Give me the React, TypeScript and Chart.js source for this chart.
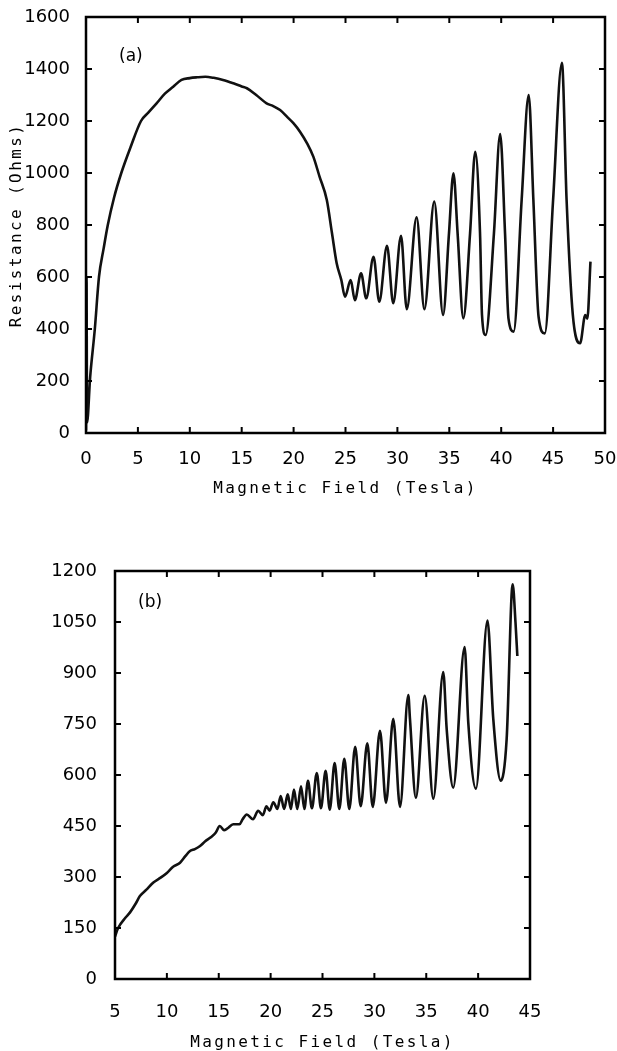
import React, { useEffect, useRef } from 'react';
import { Chart, registerables } from 'chart.js';

Chart.register(...registerables);

// ---------- Panel (a) data ----------
const fieldA = [0, 0.05, 0.1, 0.4, 0.85, 1.25, 1.7, 2.1, 2.7, 3.4, 4.3, 5.3, 6.0, 6.8, 7.6, 8.4, 9.2, 10.0, 10.7, 11.5, 12.3, 13.2, 14.2, 15.0, 15.5, 16.4, 17.4, 18.0, 18.7, 19.4, 20.0, 20.6, 21.3, 21.9, 22.5, 23.2, 23.7, 24.15, 24.6, 24.95, 25.5, 25.9, 26.5, 27.0, 27.7, 28.25, 29.0, 29.6, 30.35, 30.9, 31.85, 32.6, 33.55, 34.4, 34.97, 35.4, 35.8, 36.35, 37.0, 37.5, 37.96, 38.15, 38.5, 39.3, 39.9, 40.37, 40.7, 41.2, 41.97, 42.65, 43.1, 43.6, 44.2, 45.0, 45.85, 46.3, 46.9, 47.6, 48.1, 48.3, 48.6];
const resistanceA = [10, 600, 40, 215, 400, 600, 710, 800, 905, 1000, 1100, 1200, 1232, 1268, 1305, 1332, 1358, 1365, 1368, 1370, 1366, 1358, 1345, 1333, 1326, 1300, 1268, 1258, 1242, 1215, 1191, 1160, 1114, 1063, 986, 896, 768, 653, 588, 524, 588, 511, 614, 518, 678, 505, 720, 499, 758, 476, 830, 476, 890, 454, 768, 999, 768, 441, 768, 1082, 768, 454, 377, 768, 1150, 768, 441, 390, 896, 1300, 896, 447, 383, 896, 1424, 896, 454, 345, 454, 440, 659];
const xTicksA = [0, 5, 10, 15, 20, 25, 30, 35, 40, 45, 50];
const yTicksA = [0, 200, 400, 600, 800, 1000, 1200, 1400, 1600];

// ---------- Panel (b) data ----------
const fieldB = [5.0, 5.3, 6.0, 6.45, 7.0, 7.4, 8.0, 8.7, 9.4, 10.0, 10.6, 11.27, 11.8, 12.2, 12.7, 13.2, 13.7, 14.2, 14.7, 15.1, 15.5, 15.8, 16.4, 17.0, 17.3, 17.7, 18.3, 18.8, 19.25, 19.6, 19.9, 20.26, 20.65, 20.97, 21.3, 21.65, 21.95, 22.25, 22.57, 22.93, 23.25, 23.6, 23.98, 24.45, 24.85, 25.3, 25.7, 26.17, 26.62, 27.1, 27.58, 28.15, 28.68, 29.32, 29.84, 30.54, 31.12, 31.82, 32.47, 33.27, 33.43, 34.0, 34.85, 35.68, 36.64, 36.97, 37.6, 38.7, 39.05, 39.79, 40.9, 41.46, 42.18, 42.75, 43.33, 43.6, 43.78];
const resistanceB = [125, 150, 180, 196, 222, 244, 262, 284, 298, 312, 330, 342, 362, 376, 382, 391, 405, 416, 430, 450, 438, 442, 455, 455, 470, 484, 470, 495, 482, 508, 495, 520, 500, 538, 500, 543, 500, 557, 500, 567, 500, 583, 502, 606, 502, 612, 498, 635, 500, 648, 500, 683, 508, 693, 506, 730, 518, 765, 506, 835, 765, 533, 833, 530, 903, 735, 563, 976, 755, 560, 1054, 765, 583, 706, 1161, 1050, 950];
const xTicksB = [5, 10, 15, 20, 25, 30, 35, 40, 45];
const yTicksB = [0, 150, 300, 450, 600, 750, 900, 1050, 1200];

const xTitle = 'Magnetic Field (Tesla)';
const yTitleA = 'Resistance (Ohms)';

const TICK_FONT = { family: '"DejaVu Sans", sans-serif', size: 18 };
const TITLE_FONT = { family: '"DejaVu Sans Mono", monospace', size: 16 };

const framePlugin = {
  id: 'frame',
  beforeDraw(chart: any) {
    Object.values(chart.scales).forEach((s: any) => {
      if (!s.__spaced) {
        const orig = s.drawTitle.bind(s);
        s.drawTitle = function () {
          const c = this.ctx;
          c.save();
          (c as any).letterSpacing = '2.4px';
          orig();
          c.restore();
        };
        s.__spaced = true;
      }
    });
  },
  afterDatasetsDraw(chart: any, _args: any, opts: any) {
    const { ctx, chartArea, scales } = chart;
    const { left, top, right, bottom } = chartArea;
    const x = scales.x;
    const y = scales.y;
    ctx.save();
    ctx.strokeStyle = '#000';
    ctx.lineWidth = 2.5;
    ctx.strokeRect(left, top, right - left, bottom - top);
    ctx.lineWidth = 2;
    const L = 6;
    ctx.beginPath();
    x.ticks.forEach((t: any) => {
      const px = x.getPixelForValue(t.value);
      ctx.moveTo(px, bottom);
      ctx.lineTo(px, bottom - L);
      ctx.moveTo(px, top);
      ctx.lineTo(px, top + L);
    });
    y.ticks.forEach((t: any) => {
      const py = y.getPixelForValue(t.value);
      ctx.moveTo(left, py);
      ctx.lineTo(left + L, py);
      ctx.moveTo(right, py);
      ctx.lineTo(right - L, py);
    });
    ctx.stroke();
    if (opts && opts.label) {
      ctx.fillStyle = '#000';
      ctx.font = '17px "DejaVu Sans", sans-serif';
      ctx.textAlign = 'left';
      ctx.textBaseline = 'alphabetic';
      ctx.fillText(opts.label, left + opts.lx, top + opts.ly);
    }
    ctx.restore();
  },
};

function makeConfig(p: any) {
  const points = p.xs.map((v: number, i: number) => ({ x: v, y: p.ys[i] })).filter((d: any) => d.y !== undefined);
  return {
    type: 'line',
    data: {
      datasets: [
        {
          data: points,
          borderColor: '#111',
          borderWidth: 2.6,
          pointRadius: 0,
          fill: false,
          cubicInterpolationMode: 'monotone',
        },
      ],
    },
    options: {
      animation: false,
      responsive: false,
      devicePixelRatio: 1,
      events: [],
      layout: { padding: { left: 0, top: p.top, right: p.right, bottom: 0 } },
      plugins: {
        legend: { display: false },
        title: { display: false },
        tooltip: { enabled: false },
        frame: { label: p.label, lx: p.lx, ly: p.ly },
      },
      scales: {
        x: {
          type: 'linear',
          min: p.xmin,
          max: p.xmax,
          grid: { display: false },
          border: { display: false },
          afterBuildTicks: (s: any) => {
            s.ticks = p.xticks.map((v: number) => ({ value: v }));
          },
          afterFit: (s: any) => {
            s.height = p.xh;
            s.paddingLeft = 0;
            s.paddingRight = 0;
          },
          ticks: {
            autoSkip: false,
            maxRotation: 0,
            minRotation: 0,
            color: '#000',
            font: TICK_FONT,
            padding: p.xpad,
            callback: (v: any) => String(v),
          },
          title: {
            display: true,
            text: xTitle,
            color: '#000',
            font: TITLE_FONT,
            padding: { top: 0, bottom: p.xtpad },
          },
        },
        y: {
          type: 'linear',
          min: p.ymin,
          max: p.ymax,
          grid: { display: false },
          border: { display: false },
          afterBuildTicks: (s: any) => {
            s.ticks = p.yticks.map((v: number) => ({ value: v }));
          },
          afterFit: (s: any) => {
            s.width = p.yw;
            s.paddingTop = 0;
            s.paddingBottom = 0;
          },
          ticks: {
            autoSkip: false,
            color: '#000',
            font: TICK_FONT,
            padding: p.ypad,
            callback: (v: any) => String(v),
          },
          title: {
            display: !!p.ytitle,
            text: p.ytitle || '',
            color: '#000',
            font: TITLE_FONT,
            padding: { top: 7.4, bottom: 0 },
          },
        },
      },
    },
    plugins: [framePlugin],
  };
}

const panelA = {
  xs: fieldA, ys: resistanceA, xticks: xTicksA, yticks: yTicksA,
  xmin: 0, xmax: 50, ymin: 0, ymax: 1600,
  top: 17, right: 12, yw: 86, xh: 87, xpad: 8, ypad: 8, xtpad: 22, ytitle: yTitleA,
  label: '(a)', lx: 33, ly: 44,
};
const panelB = {
  xs: fieldB, ys: resistanceB, xticks: xTicksB, yticks: yTicksB,
  xmin: 5, xmax: 45, ymin: 0, ymax: 1200,
  top: 51, right: 87, yw: 115, xh: 72, xpad: 15, ypad: 10, xtpad: -1, ytitle: '',
  label: '(b)', lx: 23, ly: 36,
};

function ChartCanvas({ panel, width, height, top }: any) {
  const ref = useRef<HTMLCanvasElement | null>(null);
  useEffect(() => {
    if (!ref.current) return;
    const chart = new Chart(ref.current, makeConfig(panel) as any);
    return () => chart.destroy();
  }, []);
  return (
    <canvas
      ref={ref}
      width={width}
      height={height}
      style={{ position: 'absolute', left: 0, top, width, height, display: 'block' }}
    />
  );
}

export default function App() {
  return (
    <div style={{ position: 'absolute', left: 0, top: 0, width: 617, height: 1051, background: '#fff', overflow: 'hidden' }}>
      <ChartCanvas panel={panelA} width={617} height={520} top={0} />
      <ChartCanvas panel={panelB} width={617} height={531} top={520} />
    </div>
  );
}
